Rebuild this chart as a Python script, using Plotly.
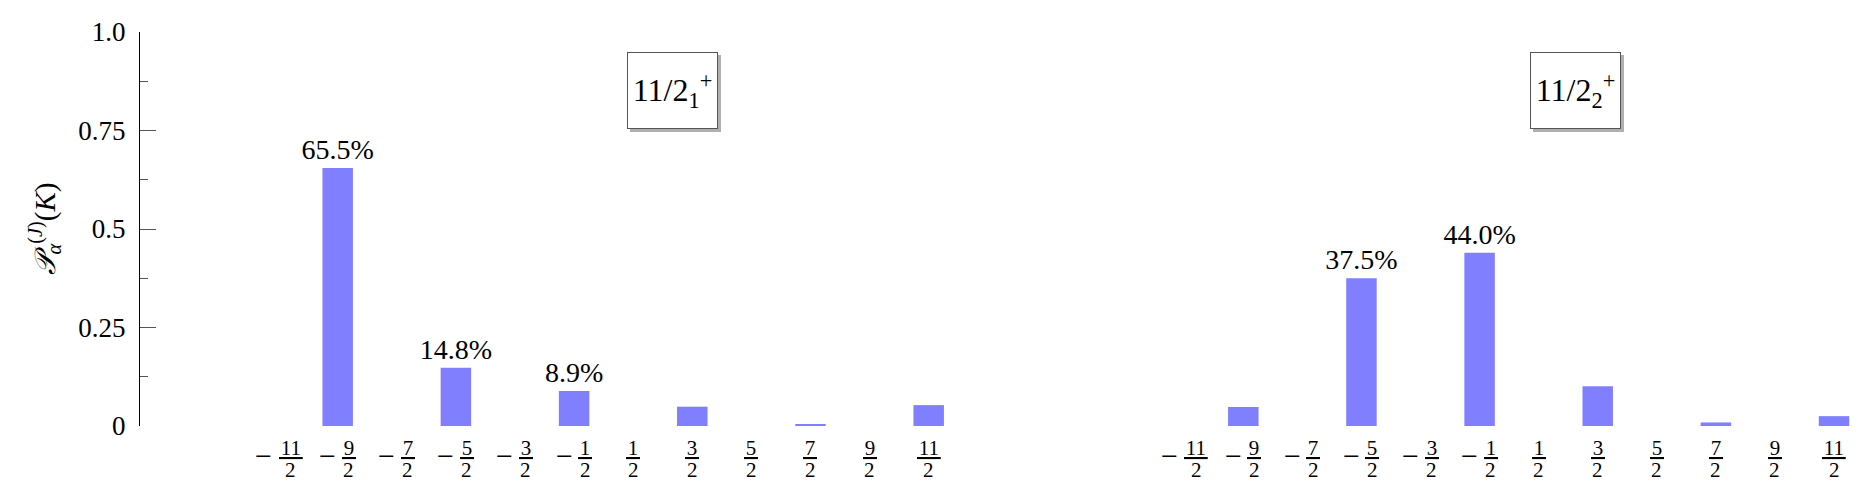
import plotly.graph_objects as go

# K values (projection), shown as fractions under the bars
k_cats = ["-11/2", "-9/2", "-7/2", "-5/2", "-3/2", "-1/2",
          "1/2", "3/2", "5/2", "7/2", "9/2", "11/2"]
k_num = ["11", "9", "7", "5", "3", "1", "1", "3", "5", "7", "9", "11"]
k_neg = [True] * 6 + [False] * 6

# P_alpha^(J)(K) for the two 11/2+ states
p_first = [0.0, 0.655, 0.0, 0.148, 0.0, 0.089, 0.0, 0.049, 0.0, 0.004, 0.0, 0.053]
p_second = [0.0, 0.048, 0.0, 0.375, 0.0, 0.440, 0.0, 0.101, 0.0, 0.009, 0.0, 0.025]
lab_first = [None, "65.5%", None, "14.8%", None, "8.9%", None, None, None, None, None, None]
lab_second = [None, None, None, "37.5%", None, "44.0%", None, None, None, None, None, None]

state_names = ["11/2<sub>1</sub><sup>+</sup>", "11/2<sub>2</sub><sup>+</sup>"]

y_ticks = [0, 0.25, 0.5, 0.75, 1.0]
y_ticktext = ["0", "0.25", "0.5", "0.75", "1.0"]

FONT = "Liberation Serif, Times New Roman, serif"
BAR = "#8080ff"

fig = go.Figure()
for p, lab, xa in [(p_first, lab_first, "x"), (p_second, lab_second, "x2")]:
    fig.add_trace(go.Bar(
        x=k_cats, y=p, xaxis=xa, yaxis="y",
        marker=dict(color=BAR, line=dict(width=0)),
        text=lab, textposition="outside", constraintext="none",
        cliponaxis=False,
        textfont=dict(family=FONT, size=28, color="black"),
        showlegend=False,
    ))

xcommon = dict(type="category", showticklabels=False,
               showline=False, ticks="", showgrid=False, zeroline=False,
               anchor="y")

# page body has an 8px margin, so the figure is 8px smaller on each side
fig.update_layout(
    width=1866, height=492,
    margin=dict(l=132, r=0, t=24, b=74),
    paper_bgcolor="white", plot_bgcolor="white",
    bargap=0.484,
    xaxis=dict(domain=[0, 0.5229], range=[-2.345, 12.997], **xcommon),
    xaxis2=dict(domain=[0.58498, 1], range=[-0.506, 11.677], **xcommon),
    yaxis=dict(
        range=[0, 1], anchor="x", showgrid=False, zeroline=False,
        showline=True, linecolor="black", linewidth=1.3,
        tickvals=y_ticks, ticktext=y_ticktext,
        ticks="inside", ticklen=16, tickwidth=1, tickcolor="#555",
        minor=dict(ticks="inside", ticklen=8, tickcolor="#555",
                   tickmode="linear", tick0=0, dtick=0.125),
        tickfont=dict(family=FONT, size=27, color="black"),
        ticklabelstandoff=8,
        title=dict(text="<i>𝒫</i><sub><i>α</i></sub><sup>(<i>J</i>)</sup>(<i>K</i>)",
                   font=dict(family=FONT, size=29, color="black"), standoff=14),
    ),
)

# K labels as stacked fractions: -num/2, minus sign on the fraction bar
for xa in ["x", "x2"]:
    for cat, num, neg in zip(k_cats, k_num, k_neg):
        fx = (12 if len(num) > 1 else 11) if neg else 0
        fig.add_annotation(x=cat, xref=xa, y=0, yref="paper",
                           text="<u>\u200a" + num + "\u200a</u>", showarrow=False,
                           xanchor="center", yanchor="middle",
                           xshift=fx, yshift=-21.5,
                           font=dict(family=FONT, size=21, color="black"))
        fig.add_annotation(x=cat, xref=xa, y=0, yref="paper",
                           text="2", showarrow=False,
                           xanchor="center", yanchor="middle",
                           xshift=fx, yshift=-43.5,
                           font=dict(family=FONT, size=21, color="black"))
        if neg:
            fig.add_annotation(x=cat, xref=xa, y=0, yref="paper",
                               text="\u2212", showarrow=False,
                               xanchor="center", yanchor="middle",
                               xshift=-15 if len(num) > 1 else -10, yshift=-29,
                               font=dict(family=FONT, size=30, color="black"))

# state boxes with a drop shadow
for name, bx in zip(state_names, [0.3071, 0.8281]):
    fig.add_annotation(x=bx, y=0.8515, xref="paper", yref="paper",
                       xanchor="center", yanchor="middle",
                       text=name, showarrow=False, xshift=3, yshift=-3,
                       width=83, height=69, borderpad=3,
                       bgcolor="#b0b0b0", bordercolor="#b0b0b0", borderwidth=1,
                       font=dict(family=FONT, size=32, color="rgba(0,0,0,0)"))
    fig.add_annotation(x=bx, y=0.8515, xref="paper", yref="paper",
                       xanchor="center", yanchor="middle",
                       text=name, showarrow=False,
                       width=83, height=69, borderpad=3,
                       bgcolor="white", bordercolor="#555", borderwidth=1,
                       font=dict(family=FONT, size=32, color="black"))

fig.write_html("out.html")
